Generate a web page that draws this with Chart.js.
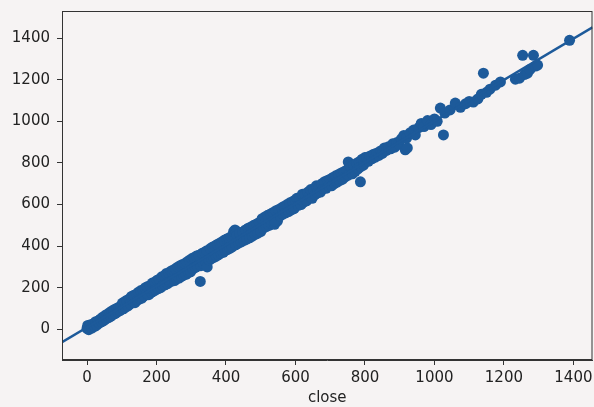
<!DOCTYPE html>
<html lang="en">
<head>
    <meta charset="UTF-8">
    <title>close regplot</title>
    <script src="https://cdn.jsdelivr.net/npm/chart.js"></script>
    <style>
        html, body { margin: 0; padding: 0; background: #f6f3f3; overflow: hidden; }
    </style>
</head>
<body>
    <!-- 4px a mais: o chart.js reserva o raio do ponto na direita -->
    <div style="width: 598px; height: 407px;">
        <canvas id="grafico1"></canvas>
    </div>

    <script>
        // valores (close x valor previsto)
        const closeX = [
            0, 2, 5, 8, 10, 14, 18, 22, 25, 28, 32, 35, 38, 42, 45, 48, 52, 55, 58, 62, 65, 68, 72, 75, 78, 82, 85, 88, 92, 95, 98,
            102, 105, 108, 112, 115, 118, 122, 125, 128, 132, 135, 138, 142, 145, 148, 152, 155, 158, 162, 165, 168, 172, 175, 178, 182, 185, 188, 192, 195, 198,
            202, 205, 208, 212, 215, 218, 222, 225, 228, 232, 235, 238, 242, 245, 248, 252, 255, 258, 262, 265, 268, 272, 275, 278, 282, 285, 288, 292, 295, 298,
            302, 305, 308, 312, 315, 318, 322, 326, 328, 332, 335, 338, 342, 345, 346, 352, 355, 358, 362, 365, 368, 372, 375, 378, 382, 385, 388, 392, 395, 398,
            402, 405, 408, 412, 415, 418, 422, 426, 430, 428, 432, 436, 440, 444, 448, 452, 456, 460, 464, 468, 472, 476, 480, 484, 488, 492, 496, 500,
            504, 508, 512, 516, 520, 524, 528, 532, 536, 540, 544, 548, 552, 540, 556, 560, 564, 568, 572, 576, 580, 584, 588, 592, 596, 600,
            604, 608, 612, 616, 620, 624, 628, 632, 636, 640, 644, 648, 652, 656, 660, 664, 668, 672, 676, 680, 684, 688, 692, 696, 700,
            704, 708, 712, 716, 720, 724, 728, 732, 736, 740, 744, 748, 752, 752, 756, 760, 764, 768, 772, 776, 780, 787, 784, 788, 792, 796, 800,
            805, 810, 815, 820, 825, 830, 835, 840, 845, 850, 856, 862, 868, 874, 880, 886, 892, 898,
            905, 916, 912, 922, 920, 930, 940, 945, 955, 962, 970, 980, 990, 1000,
            1008, 1017, 1026, 1030, 1045, 1060, 1075, 1090, 1100,
            1112, 1125, 1135, 1141, 1150, 1160, 1176, 1190,
            1233, 1245, 1254, 1260, 1268, 1275, 1285, 1291, 1297, 1389
        ];
        const closeY = [
            4, 18, -2, 14, 22, 6, 26, 14, 36, 20, 40, 30, 48, 36, 58, 42, 66, 50, 72, 56, 80, 62, 88, 70, 94, 76, 100, 84, 106, 90, 112,
            126, 98, 132, 108, 140, 112, 146, 122, 158, 130, 164, 128, 168, 140, 178, 146, 186, 150, 188, 160, 200, 170, 206, 166, 210, 178, 222, 184, 226, 190,
            236, 196, 240, 200, 252, 210, 256, 214, 268, 220, 270, 228, 280, 232, 284, 234, 292, 242, 300, 246, 306, 254, 312, 260, 316, 264, 324, 272, 332, 276,
            340, 290, 344, 298, 352, 304, 356, 230, 306, 366, 316, 370, 324, 378, 300, 332, 388, 340, 396, 346, 400, 352, 408, 358, 414, 366, 420, 370, 428, 378,
            434, 384, 438, 390, 446, 396, 470, 478, 472, 406, 452, 414, 460, 420, 468, 428, 478, 434, 486, 440, 492, 448, 500, 456, 506, 462, 514, 470,
            532, 486, 540, 494, 548, 500, 554, 508, 562, 505, 570, 520, 576, 520, 546, 584, 554, 592, 560, 600, 566, 608, 574, 614, 580, 622,
            630, 596, 628, 600, 650, 612, 648, 618, 660, 640, 672, 630, 668, 648, 690, 656, 684, 660, 700, 676, 710, 678, 716, 690, 722,
            690, 730, 700, 738, 708, 744, 716, 752, 722, 758, 734, 766, 805, 742, 790, 780, 748, 790, 760, 798, 772, 709, 806, 782, 818, 790, 826,
            826, 808, 834, 820, 842, 828, 848, 836, 858, 846, 872, 860, 878, 868, 892, 876, 898, 890,
            916, 863, 932, 872, 920, 945, 958, 935, 970, 990, 975, 1004, 985, 1012,
            1000, 1064, 935, 1040, 1055, 1088, 1068, 1085, 1096,
            1093, 1108, 1130, 1232, 1140, 1155, 1174, 1190,
            1203, 1208, 1318, 1226, 1232, 1250, 1318, 1266, 1271, 1390
        ];
        const ticksX = [0, 200, 400, 600, 800, 1000, 1200, 1400];
        const ticksY = [0, 200, 400, 600, 800, 1000, 1200, 1400];

        const azul = '#1d5a9a';
        const xMin = -72, xMax = 1455;

        let pontos = closeX.map((x, i) => ({ x: x, y: closeY[i] }));

        // reta de regressao (minimos quadrados) sobre os pontos
        let n = closeX.length;
        let mx = closeX.reduce((a, b) => a + b, 0) / n;
        let my = closeY.reduce((a, b) => a + b, 0) / n;
        let sxy = 0, sxx = 0;
        for (let i = 0; i < n; i++) {
            sxy += (closeX[i] - mx) * (closeY[i] - my);
            sxx += (closeX[i] - mx) * (closeX[i] - mx);
        }
        let a = sxy / sxx;
        let b = my - a * mx;
        let reta = [{ x: xMin, y: a * xMin + b }, { x: xMax, y: a * xMax + b }];

        const fundo = {
            id: 'fundo',
            beforeDraw(chart) {
                const c = chart.ctx;
                c.save();
                c.fillStyle = '#f6f3f3';
                c.fillRect(0, 0, chart.width, chart.height);
                c.restore();
            },
            afterDraw(chart) {
                const c = chart.ctx;
                const ar = chart.chartArea;
                c.save();
                c.strokeStyle = '#333';
                c.lineWidth = 1;
                c.strokeRect(ar.left + 0.5, ar.top + 0.5, ar.right - ar.left - 1, ar.bottom - ar.top - 1);
                c.restore();
            }
        };

        const fonte = { family: 'DejaVu Sans', size: 15 };
        const ctx = document.getElementById('grafico1');

        let grafico1 = new Chart(ctx, {
            type: 'scatter',
            data: {
                datasets: [{
                    data: reta,
                    showLine: true,
                    borderColor: azul,
                    borderWidth: 2.5,
                    pointRadius: 0,
                    order: 0
                }, {
                    data: pontos,
                    backgroundColor: azul,
                    borderWidth: 0,
                    pointRadius: 5.5,
                    order: 1
                }]
            },
            options: {
                responsive: true,
                maintainAspectRatio: false,
                animation: false,
                layout: { padding: { top: 11, right: 0, left: 0, bottom: 0 } },
                plugins: {
                    legend: { display: false },
                    tooltip: { enabled: false }
                },
                scales: {
                    x: {
                        min: xMin,
                        max: xMax,
                        afterBuildTicks: (s) => { s.ticks = ticksX.map(v => ({ value: v })); },
                        afterFit: (s) => { s.height = 47; s.paddingLeft = 0; s.paddingRight = 0; },
                        grid: { drawOnChartArea: false, tickLength: 5, tickColor: '#333' },
                        border: { color: '#333' },
                        ticks: { color: '#222', font: fonte, padding: 4, maxRotation: 0, callback: (v) => String(v) },
                        title: { display: true, text: 'close', color: '#222', font: fonte, padding: { top: 1, bottom: 0 } }
                    },
                    y: {
                        min: -148,
                        max: 1531,
                        afterBuildTicks: (s) => { s.ticks = ticksY.map(v => ({ value: v })); },
                        afterFit: (s) => { s.width = 62; s.paddingTop = 0; s.paddingBottom = 0; },
                        grid: { drawOnChartArea: false, tickLength: 5, tickColor: '#333' },
                        border: { color: '#333' },
                        ticks: { color: '#222', font: fonte, padding: 7, callback: (v) => String(v) }
                    }
                }
            },
            plugins: [fundo]
        });
    </script>
</body>
</html>
